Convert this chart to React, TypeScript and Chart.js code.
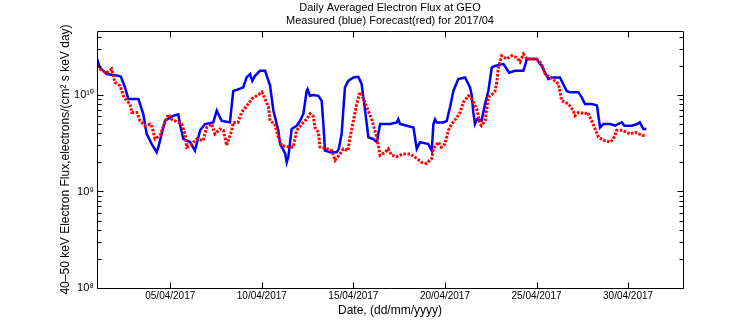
import React, { useEffect, useRef } from "react";
import { Chart, registerables } from "chart.js";

Chart.register(...registerables);

const TITLE_LINES = [
  "Daily Averaged Electron Flux at GEO",
  "Measured (blue) Forecast(red) for 2017/04",
];
const Y_TITLE = "40–50 keV Electron Flux,electrons/(cm² s keV day)";
const X_TITLE = "Date, (dd/mm/yyyy)";

// x tick positions (day of April 2017) and labels
const X_TICK_DAYS = [5, 10, 15, 20, 25, 30];
const X_TICK_LABELS = ["05/04/2017", "10/04/2017", "15/04/2017", "20/04/2017", "25/04/2017", "30/04/2017"];
const Y_MAJOR = [1e8, 1e9, 1e10];
const Y_LABELS = ["10⁸", "10⁹", "10¹⁰"];

// Measured (blue): day of month (fractional) and flux
const measuredDays = [
  1.0, 1.15, 1.53, 2.16, 2.3, 2.53, 2.71, 3.26, 3.35, 3.53, 3.71, 3.99, 4.26, 4.35, 4.53, 4.71,
  5.17, 5.44, 5.53, 5.71, 6.08, 6.35, 6.44, 6.63, 6.9, 7.35, 7.54, 7.6, 7.81, 8.26, 8.44, 8.63,
  8.99, 9.17, 9.36, 9.48, 9.63, 9.9, 10.18, 10.45, 10.63, 10.9, 11.0, 11.27, 11.36, 11.45, 11.63,
  11.9, 12.09, 12.27, 12.45, 12.5, 12.63, 12.81, 13.09, 13.27, 13.36, 13.45, 13.72, 14.09, 14.2,
  14.36, 14.45, 14.54, 14.72, 15.0, 15.27, 15.45, 15.64, 15.82, 16.09, 16.28, 16.46, 17.0, 17.37,
  17.45, 17.55, 18.28, 18.46, 18.64, 19.09, 19.28, 19.37, 19.46, 19.55, 19.91, 20.1, 20.28, 20.46,
  20.73, 21.1, 21.28, 21.37, 21.46, 21.55, 21.64, 21.75, 22.0, 22.19, 22.37, 22.56, 22.74, 23.19,
  23.38, 23.5, 23.83, 24.28, 24.37, 24.47, 25.0, 25.28, 25.47, 25.65, 25.8, 26.28, 26.65, 26.8,
  27.28, 27.46, 27.65, 28.02, 28.3, 28.47, 28.65, 29.02, 29.3, 29.45, 29.66, 29.8, 30.2, 30.5,
  30.64, 30.83, 31.0,
];
const measuredFlux = [
  2.36e10, 1.93e10, 1.65e10, 1.58e10, 1.55e10, 1.2e10, 9.1e9, 9.1e9, 8.07e9, 6.3e9, 3.95e9, 3.1e9,
  2.55e9, 2.88e9, 3.95e9, 5.4e9, 6.1e9, 6.3e9, 5.0e9, 3.5e9, 3.25e9, 2.65e9, 3.1e9, 4.3e9, 5.0e9,
  5.2e9, 6.9e9, 6.5e9, 5.4e9, 5.2e9, 1.1e10, 1.13e10, 1.2e10, 1.52e10, 1.65e10, 1.4e10, 1.58e10,
  1.78e10, 1.78e10, 1.25e10, 6.9e9, 4.3e9, 3.1e9, 2.5e9, 2.0e9, 2.3e9, 4.45e9, 4.8e9, 5.4e9, 6.4e9,
  1.1e10, 1.15e10, 9.8e9, 1.0e10, 9.8e9, 8.7e9, 5.0e9, 2.65e9, 2.55e9, 2.55e9, 2.75e9, 3.95e9,
  6.9e9, 1.2e10, 1.4e10, 1.52e10, 1.54e10, 1.3e10, 6.9e9, 3.65e9, 3.5e9, 3.25e9, 5.0e9, 5.0e9,
  5.2e9, 5.6e9, 5.0e9, 4.6e9, 2.77e9, 3.25e9, 3.1e9, 2.65e9, 5.0e9, 5.6e9, 5.2e9, 5.2e9, 5.4e9,
  7.5e9, 1.1e10, 1.46e10, 1.52e10, 1.3e10, 1.2e10, 1.0e10, 6.6e9, 5.0e9, 5.6e9, 5.4e9, 8.07e9,
  1.1e10, 1.93e10, 2.0e10, 2.1e10, 1.86e10, 1.7e10, 1.78e10, 1.78e10, 2.0e10, 2.36e10, 2.36e10,
  2.0e10, 1.7e10, 1.46e10, 1.52e10, 1.52e10, 1.1e10, 1.07e10, 1.07e10, 9.5e9, 8.07e9, 8.07e9,
  7.8e9, 4.6e9, 5.0e9, 5.0e9, 4.8e9, 5.0e9, 5.2e9, 4.8e9, 4.8e9, 5.0e9, 5.2e9, 4.45e9, 4.45e9,
];

// Forecast (red)
const forecastDays = [
  1.0, 1.26, 1.53, 1.8, 1.98, 2.26, 2.44, 2.62, 2.8, 2.9, 3.17, 3.35, 3.62, 3.9, 4.0, 4.17, 4.44,
  4.71, 4.9, 5.08, 5.44, 5.63, 5.81, 5.9, 6.17, 6.44, 6.8, 6.99, 7.26, 7.44, 7.72, 7.9, 8.08, 8.36,
  8.44, 8.7, 8.9, 9.26, 9.45, 9.72, 10.0, 10.18, 10.36, 10.45, 10.7, 10.9, 11.08, 11.45, 11.72,
  11.9, 12.18, 12.45, 12.63, 12.81, 12.9, 13.09, 13.18, 13.54, 13.82, 14.0, 14.27, 14.45, 14.7,
  14.82, 15.0, 15.18, 15.36, 15.55, 15.73, 16.0, 16.28, 16.46, 16.73, 16.9, 17.09, 17.37, 17.73,
  18.09, 18.46, 18.73, 19.0, 19.28, 19.37, 19.64, 19.8, 20.0, 20.19, 20.37, 20.64, 20.83, 21.0,
  21.28, 21.4, 21.55, 21.73, 21.92, 22.0, 22.19, 22.37, 22.55, 22.74, 22.83, 22.92, 23.1, 23.37,
  23.64, 23.92, 24.1, 24.28, 24.47, 24.83, 25.0, 25.28, 25.47, 25.74, 26.01, 26.2, 26.38, 26.74,
  27.01, 27.1, 27.3, 27.65, 27.8, 28.01, 28.2, 28.38, 28.65, 29.02, 29.2, 29.38, 29.7, 29.92, 30.1,
  30.4, 30.6, 30.83, 31.0,
];
const forecastFlux = [
  2.0e10, 1.78e10, 1.7e10, 1.86e10, 1.35e10, 1.25e10, 9.8e9, 8.7e9, 8.07e9, 6.6e9, 6.6e9, 5.4e9,
  4.8e9, 5.0e9, 4.7e9, 3.5e9, 3.8e9, 5.2e9, 6.3e9, 5.6e9, 5.2e9, 5.0e9, 3.95e9, 2.88e9, 3.1e9,
  3.5e9, 3.37e9, 4.6e9, 5.0e9, 3.95e9, 4.45e9, 4.3e9, 3.0e9, 4.3e9, 5.2e9, 5.2e9, 6.6e9, 8.07e9,
  9.1e9, 9.8e9, 1.07e10, 9.1e9, 7.5e9, 5.4e9, 5.0e9, 3.65e9, 3.0e9, 2.9e9, 2.88e9, 4.3e9, 5.0e9,
  5.6e9, 6.4e9, 6.0e9, 4.6e9, 4.1e9, 2.88e9, 2.77e9, 2.65e9, 2.1e9, 2.45e9, 2.77e9, 2.65e9, 3.65e9,
  5.4e9, 8.07e9, 1.07e10, 9.1e9, 7.5e9, 5.6e9, 3.65e9, 2.37e9, 2.55e9, 2.77e9, 2.37e9, 2.3e9,
  2.45e9, 2.45e9, 2.2e9, 2.0e9, 1.95e9, 2.2e9, 2.77e9, 3.25e9, 2.88e9, 3.1e9, 4.3e9, 5.0e9, 5.8e9,
  6.6e9, 8.4e9, 9.8e9, 9.5e9, 8.4e9, 7.2e9, 5.0e9, 4.8e9, 5.4e9, 9.5e9, 1.0e10, 1.1e10, 1.35e10,
  1.93e10, 2.55e10, 2.36e10, 2.55e10, 2.45e10, 2.2e10, 2.65e10, 2.36e10, 2.36e10, 2.36e10, 2.1e10,
  1.65e10, 1.52e10, 1.4e10, 1.3e10, 8.7e9, 8.07e9, 6.9e9, 6.1e9, 6.6e9, 6.4e9, 6.6e9, 5.4e9, 4.45e9,
  3.65e9, 3.4e9, 3.25e9, 3.5e9, 4.3e9, 4.3e9, 4.1e9, 3.95e9, 4.1e9, 3.95e9, 3.8e9, 3.8e9,
];

const FONT = "'Liberation Sans', Arial, Helvetica, sans-serif";

const framePlugin = {
  id: "frame",
  afterDatasetsDraw(chart: any) {
    const { ctx, chartArea: a, scales } = chart;
    const xs = scales.x;
    const ys = scales.y;
    const L = Math.round(a.left) + 0.5;
    const R = Math.round(a.right) + 0.5;
    const T = Math.round(a.top) + 0.5;
    const B = Math.round(a.bottom) + 0.5;
    ctx.save();
    ctx.strokeStyle = "#000";
    ctx.lineWidth = 1;
    ctx.beginPath();
    ctx.moveTo(L, T);
    ctx.lineTo(R, T);
    ctx.lineTo(R, B);
    ctx.lineTo(L, B);
    ctx.closePath();
    for (const d of X_TICK_DAYS) {
      const px = Math.round(xs.getPixelForValue(d)) + 0.5;
      ctx.moveTo(px, B);
      ctx.lineTo(px, B - 6);
      ctx.moveTo(px, T);
      ctx.lineTo(px, T + 6);
    }
    for (const t of ys.ticks) {
      const major = Y_MAJOR.includes(t.value);
      const len = major ? 6 : 4;
      const py = Math.round(ys.getPixelForValue(t.value)) + 0.5;
      ctx.moveTo(L, py);
      ctx.lineTo(L + len, py);
      ctx.moveTo(R, py);
      ctx.lineTo(R - len, py);
    }
    ctx.stroke();
    ctx.restore();
  },
};

export default function App() {
  const ref = useRef<HTMLCanvasElement | null>(null);
  useEffect(() => {
    if (!ref.current) return;
    const measured = measuredDays.map((d, i) => ({ x: d, y: measuredFlux[i] }));
    const forecast = forecastDays.map((d, i) => ({ x: d, y: forecastFlux[i] }));
    const chart = new Chart(ref.current, {
      type: "line",
      data: {
        datasets: [
          {
            label: "Measured",
            data: measured,
            borderColor: "#0000ff",
            borderWidth: 2.5,
            pointRadius: 0,
            tension: 0,
            order: 1,
          },
          {
            label: "Forecast",
            data: forecast,
            borderColor: "#ff0000",
            borderWidth: 3,
            borderDash: [2.5, 1.5],
            pointRadius: 0,
            tension: 0,
            order: 0,
          },
        ],
      },
      options: {
        responsive: false,
        animation: false,
        devicePixelRatio: 1,
        layout: { padding: { left: 0, right: 73, top: 0, bottom: 0 } },
        plugins: {
          legend: { display: false },
          tooltip: { enabled: false },
          title: {
            display: true,
            fullSize: false,
            text: TITLE_LINES,
            color: "#000",
            font: { family: FONT, size: 11, weight: "normal", lineHeight: 1.2 },
            padding: { top: 1, bottom: 3.6 },
          },
        },
        scales: {
          x: {
            type: "linear",
            min: 1,
            max: 33,
            grid: { display: false, drawTicks: false, tickLength: 0 },
            border: { display: false },
            afterBuildTicks: (s: any) => {
              s.ticks = X_TICK_DAYS.map((v) => ({ value: v }));
            },
            afterFit: (s: any) => {
              s.height = 36;
            },
            ticks: {
              autoSkip: false,
              maxRotation: 0,
              padding: 2,
              color: "#000",
              font: { family: FONT, size: 10 },
              callback: (v: any) => X_TICK_LABELS[X_TICK_DAYS.indexOf(Number(v))] ?? "",
            },
            title: {
              display: true,
              text: X_TITLE,
              color: "#000",
              font: { family: FONT, size: 12 },
              padding: { top: 0, bottom: 5.8 },
            },
          },
          y: {
            type: "logarithmic",
            min: 1e8,
            max: 4.6e10,
            grid: { display: false, drawTicks: false, tickLength: 0 },
            border: { display: false },
            afterBuildTicks: (s: any) => {
              const t: any[] = [];
              for (let e = 8; e <= 10; e++) {
                for (let m = 1; m <= 9; m++) {
                  const v = m * Math.pow(10, e);
                  if (v <= 4.6e10) t.push({ value: v });
                }
              }
              s.ticks = t;
            },
            afterFit: (s: any) => {
              s.width = 97;
            },
            ticks: {
              autoSkip: false,
              padding: 3,
              color: "#000",
              font: { family: FONT, size: 11 },
              callback: (v: any) => {
                const i = Y_MAJOR.indexOf(Number(v));
                return i >= 0 ? Y_LABELS[i] : "";
              },
            },
            title: {
              display: true,
              text: Y_TITLE,
              color: "#000",
              font: { family: FONT, size: 12 },
              padding: { top: 58, bottom: 0 },
            },
          },
        },
      },
      plugins: [framePlugin],
    });
    return () => chart.destroy();
  }, []);
  return (
    <div style={{ position: "absolute", left: 0, top: 0, width: 756, height: 324, background: "#fff" }}>
      <canvas ref={ref} width={756} height={324} style={{ display: "block", width: 756, height: 324 }} />
    </div>
  );
}
